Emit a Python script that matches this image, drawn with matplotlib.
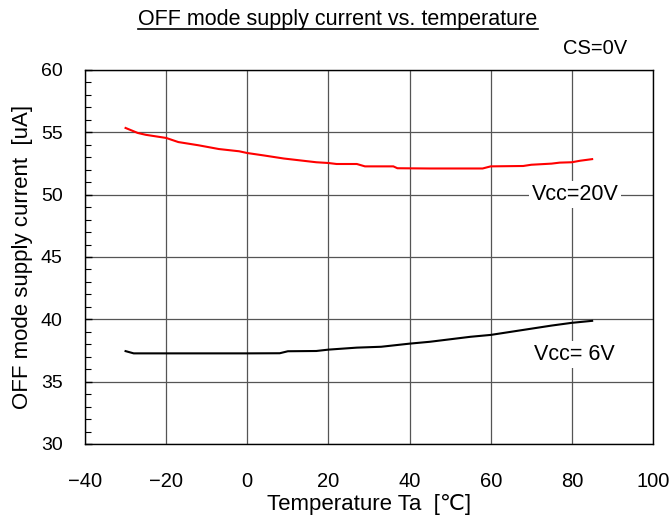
import matplotlib
matplotlib.use("Agg")
import matplotlib.pyplot as plt
from matplotlib.ticker import MultipleLocator
from matplotlib.lines import Line2D

# Data
temp_20v = [-30, -27, -25, -20, -17, -12, -7, -2, 0, 4, 9, 13, 17, 20, 22, 27, 29, 36, 37, 45, 50, 58, 60, 68, 70, 75, 77, 80, 82, 85]
i_20v = [55.35, 54.95, 54.8, 54.55, 54.22, 53.96, 53.66, 53.48, 53.34, 53.15, 52.9, 52.75, 52.6, 52.54, 52.46, 52.46, 52.27, 52.27, 52.12, 52.1, 52.1, 52.1, 52.27, 52.3, 52.4, 52.49, 52.57, 52.6, 52.72, 52.85]
temp_6v = [-30, -28, -20, -10, 0, 8, 10, 17, 20, 27, 33, 40, 45, 50, 55, 60, 65, 70, 75, 80, 85]
i_6v = [37.45, 37.27, 37.27, 37.27, 37.27, 37.28, 37.44, 37.46, 37.57, 37.73, 37.8, 38.05, 38.2, 38.4, 38.6, 38.75, 39.0, 39.25, 39.5, 39.72, 39.88]

x_ticks = [-40, -20, 0, 20, 40, 60, 80, 100]
y_ticks = [30, 35, 40, 45, 50, 55, 60]

title = "OFF mode supply current vs. temperature"
xlabel = "Temperature Ta  [\u2103]"
ylabel = "OFF mode supply current  [uA]"

FAM = ['Liberation Sans', 'DejaVu Sans']
plt.rcParams['font.family'] = FAM

fig = plt.figure(figsize=(6.71, 5.15), dpi=100)
ax = fig.add_axes([85/671, 1-444/515, (653-85)/671, (444-70)/515])

ax.plot(temp_20v, i_20v, color='#ff0000', lw=1.5)
ax.plot(temp_6v, i_6v, color='black', lw=1.5)

ax.set_xlim(-40, 100)
ax.set_ylim(30, 60)
ax.set_xticks(x_ticks)
ax.set_yticks(y_ticks)
ax.set_xticklabels([("\u2212%d" % -v) if v < 0 else str(v) for v in x_ticks])
ax.set_yticklabels([str(v) for v in y_ticks])
ax.yaxis.set_minor_locator(MultipleLocator(1))
ax.tick_params(axis='y', which='major', direction='in', length=5, labelsize=14, pad=16, width=1)
ax.tick_params(axis='y', which='minor', direction='in', length=4, width=0.8)
ax.tick_params(axis='x', which='major', length=0, labelsize=14.5, pad=20)
ax.grid(True, which='major', color='#555555', lw=0.9)
for s in ax.spines.values():
    s.set_color('black')
    s.set_linewidth(1)

ax.set_xlabel(xlabel, fontsize=16, labelpad=2)
ax.set_ylabel(ylabel, fontsize=16, labelpad=6)

bb = dict(facecolor='white', edgecolor='none', pad=2)
ax.text(80.8, 50, "Vcc=20V", fontsize=15.5, ha='center', va='center', bbox=bb)
ax.text(80.5, 37.2, "Vcc= 6V", fontsize=15.5, ha='center', va='center', bbox=bb)

fig.text(627/671, 1-48/515, "CS=0V", fontsize=14.5, ha='right', va='center')
t = fig.text(338/671, 1-19/515, title, fontsize=15.5, ha='center', va='center')

fig.canvas.draw()
r = fig.canvas.get_renderer()
ext = t.get_window_extent(r)
W, H = fig.bbox.width, fig.bbox.height
yline = (ext.y0 + 1) / H
fig.add_artist(Line2D([ext.x0 / W, ext.x1 / W], [yline, yline], color='black', lw=1.2, transform=fig.transFigure))

fig.savefig("out.png", dpi=100)
